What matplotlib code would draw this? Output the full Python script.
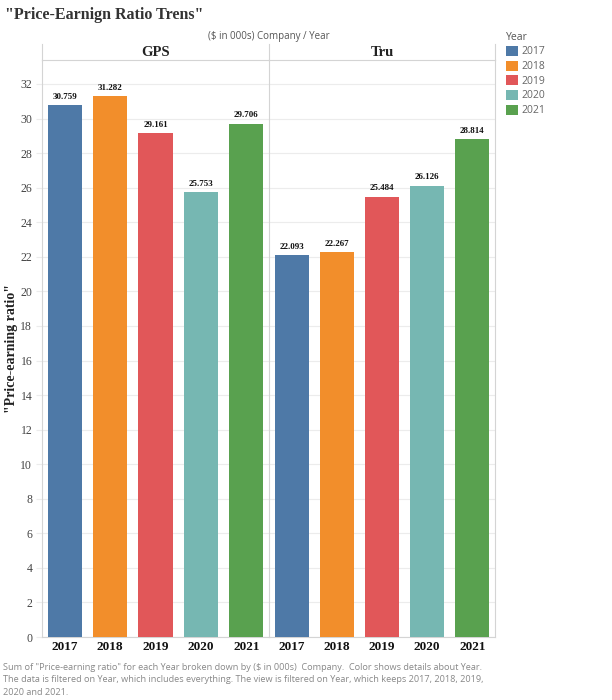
import matplotlib
matplotlib.use("Agg")
import matplotlib.pyplot as plt
from matplotlib.patches import Patch

companies = ["GPS", "Tru"]
years = ["2017", "2018", "2019", "2020", "2021"]
gps_values = [30.759, 31.282, 29.161, 25.753, 29.706]
tru_values = [22.093, 22.267, 25.484, 26.126, 28.814]
year_colors = ["#4E79A7", "#F28E2B", "#E15759", "#76B7B2", "#59A14F"]
y_ticks = list(range(0, 33, 2))

W, H = 612, 700
SERIF = "Liberation Serif"
SANS = "Open Sans"
GRID = "#ececec"
BORDER = "#d4d4d4"


def px_axes(fig, x0, y0, x1, y1):
    # pixel box (top-left origin) -> figure axes
    return fig.add_axes([x0 / W, 1 - y1 / H, (x1 - x0) / W, (y1 - y0) / H])


fig = plt.figure(figsize=(W / 100, H / 100), dpi=100)

left, mid, right = 42, 269, 495
head_top, plot_top, plot_bot = 44, 60, 637
ymax = (plot_bot - plot_top) / ((plot_bot - 84) / 32.0)

panels = [(left, mid, gps_values), (mid, right, tru_values)]
for i, (x0, x1, vals) in enumerate(panels):
    ax = px_axes(fig, x0, plot_top, x1, plot_bot)
    xs = list(range(len(years)))
    ax.bar(xs, vals, width=0.75, color=year_colors, zorder=3)
    for x, v in zip(xs, vals):
        ax.annotate("{:.3f}".format(v), (x, v), xytext=(0, 3), textcoords="offset points",
                    ha="center", va="bottom", fontsize=6.5, fontweight="bold",
                    family=SERIF, color="#111111", zorder=4)
    ax.set_xlim(-0.5, 4.5)
    ax.set_ylim(0, ymax)
    ax.set_yticks(y_ticks)
    ax.yaxis.grid(True, color=GRID, lw=0.8, zorder=0)
    ax.set_xticks(xs)
    ax.set_xticklabels(years, fontsize=9.5, fontweight="bold", family=SERIF, color="#111111")
    ax.tick_params(axis="x", length=0, pad=3)
    for s in ax.spines.values():
        s.set_color(BORDER)
        s.set_linewidth(0.8)
    ax.spines["top"].set_visible(False)
    ax.spines["right"].set_visible(i == 1)
    if i == 0:
        ax.set_yticklabels([str(t) for t in y_ticks], fontsize=8.5, family=SERIF, color="#444444")
        ax.tick_params(axis="y", length=4, color=GRID, pad=3)
        ax.set_ylabel('"Price-earning ratio"', fontsize=10, fontweight="bold",
                      family=SERIF, color="#222222", va="center")
        ax.yaxis.set_label_coords((11 - x0) / (x1 - x0), 0.5)
    else:
        ax.tick_params(axis="y", length=0, labelleft=False)

    hx = px_axes(fig, x0, head_top, x1, plot_top)
    hx.set_xticks([])
    hx.set_yticks([])
    for s in hx.spines.values():
        s.set_color(BORDER)
        s.set_linewidth(0.8)
    hx.spines["top"].set_visible(False)
    hx.spines["right"].set_visible(i == 1)
    hx.text(0.5, 0.45, companies[i], ha="center", va="center", fontsize=10.5,
            fontweight="bold", family=SERIF, color="#222222", transform=hx.transAxes)

fig.text(5 / W, 1 - 15 / H, '"Price-Earnign Ratio Trens"', fontsize=11.5, fontweight="bold",
         family=SERIF, color="#333333", va="center", ha="left")
fig.text((left + right) / 2 / W, 1 - 37 / H, "($ in 000s) Company / Year", fontsize=7,
         family=SANS, color="#555555", ha="center", va="center")

handles = [Patch(facecolor=c, edgecolor="none") for c in year_colors]
leg = fig.legend(handles, years, title="Year", loc="upper left",
                 bbox_to_anchor=(502 / W, 1 - 28 / H), frameon=False,
                 prop={"family": SANS, "size": 7.5}, handlelength=1.1, handleheight=1.1,
                 handletextpad=0.4, labelspacing=0.3, borderaxespad=0)
leg.get_title().set_fontsize(7.5)
leg.get_title().set_family(SANS)
leg.get_title().set_color("#555555")
leg._legend_box.align = "left"
leg._legend_box.sep = 2
for t in leg.get_texts():
    t.set_color("#666666")

footer = ('Sum of "Price-earning ratio" for each Year broken down by ($ in 000s)  Company.  '
          'Color shows details about Year.\n'
          'The data is filtered on Year, which includes everything. The view is filtered on Year, '
          'which keeps 2017, 2018, 2019,\n2020 and 2021.')
fig.text(3 / W, 1 - 663 / H, footer, fontsize=6.6, family=SANS, color="#888888",
         ha="left", va="top", linespacing=1.5)

fig.savefig("out.png", dpi=100)
